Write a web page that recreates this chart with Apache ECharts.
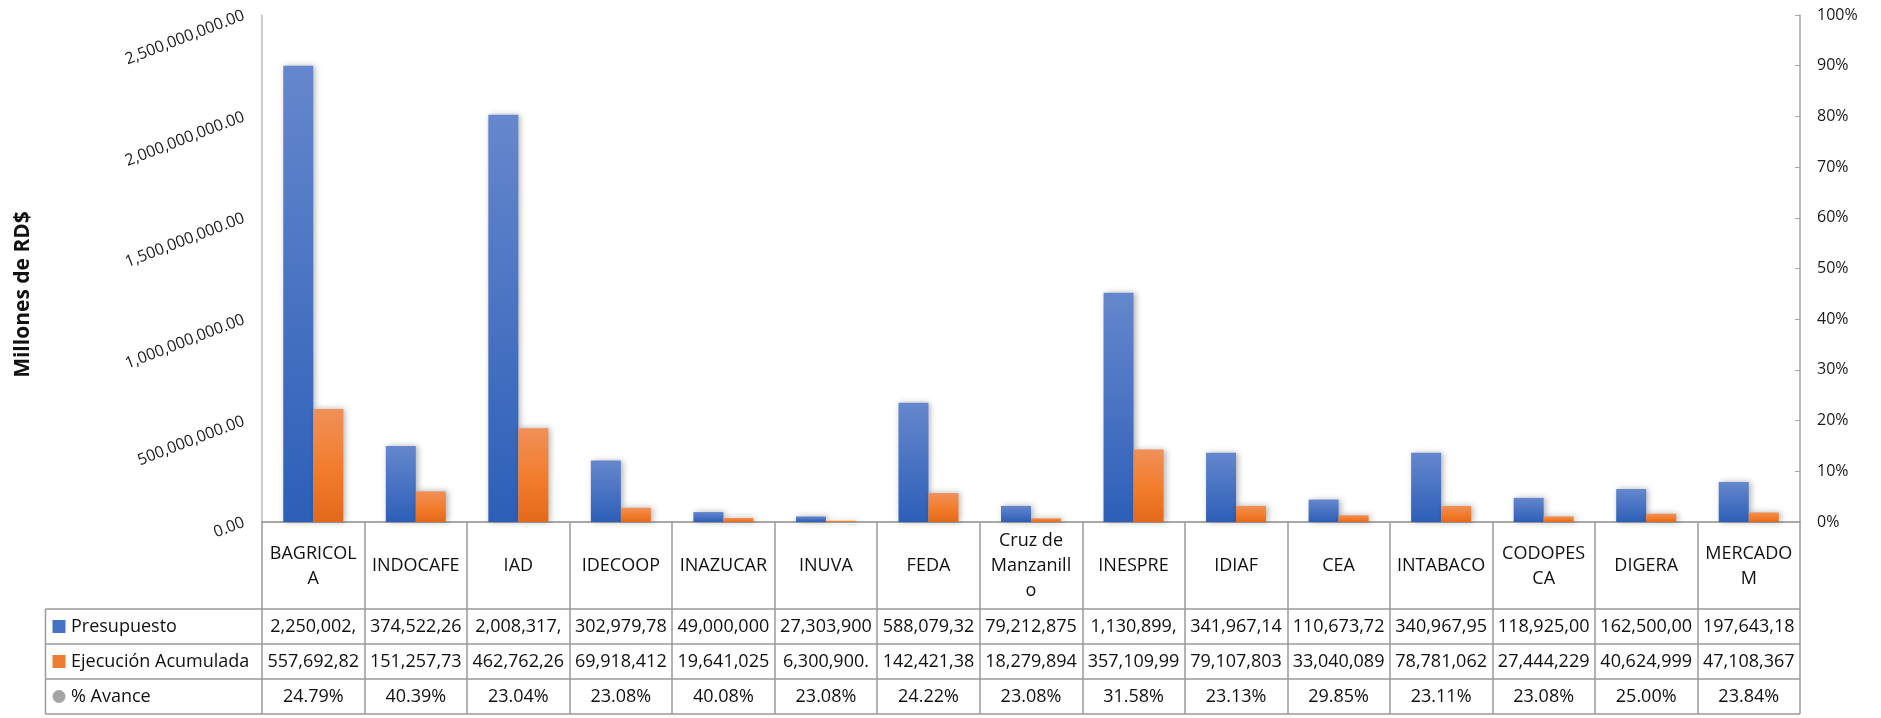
<!DOCTYPE html>
<html><head><meta charset="utf-8">
<script src="https://cdn.jsdelivr.net/npm/echarts@6/dist/echarts.min.js"></script>
<style>html,body{margin:0;padding:0;background:#fff}#c{width:1881px;height:718px}</style>
</head><body><div id="c"></div>
<script>
// ---- data ----
const categories = ['BAGRICOLA','INDOCAFE','IAD','IDECOOP','INAZUCAR','INUVA','FEDA','Cruz de Manzanillo','INESPRE','IDIAF','CEA','INTABACO','CODOPESCA','DIGERA','MERCADOM'];
const headerLabels = ['BAGRICOL\nA','INDOCAFE','IAD','IDECOOP','INAZUCAR','INUVA','FEDA','Cruz de\nManzanill\no','INESPRE','IDIAF','CEA','INTABACO','CODOPES\nCA','DIGERA','MERCADO\nM'];
const presupuesto = [2250002000, 374522260, 2008317000, 302979780, 49000000, 27303900, 588079320, 79212875, 1130899000, 341967140, 110673720, 340967950, 118925000, 162500000, 197643180];
const ejecucion = [557692820, 151257730, 462762260, 69918412, 19641025, 6300900, 142421380, 18279894, 357109990, 79107803, 33040089, 78781062, 27444229, 40624999, 47108367];
const avance = [24.79, 40.39, 23.04, 23.08, 40.08, 23.08, 24.22, 23.08, 31.58, 23.13, 29.85, 23.11, 23.08, 25.00, 23.84];
const seriesNames = ['Presupuesto', 'Ejecución Acumulada', '% Avance'];
const yAxisName = 'Millones de RD$';

// ---- helpers ----
const FONT = 'Open Sans';
const TXT = '#111';
const LINE = '#9a9a9a';
const CELL_FONT = '18px "Open Sans"';
const CELL_WIDTH = 93.5;
const money = v => v.toLocaleString('en-US', {minimumFractionDigits: 2, maximumFractionDigits: 2});
const pct = v => v.toFixed(2) + '%';
const measureCtx = document.createElement('canvas').getContext('2d');
measureCtx.font = CELL_FONT;
function clip(s) {
  // cell clipping like a spreadsheet: keep only whole characters that fit
  while (s.length > 0 && measureCtx.measureText(s).width > CELL_WIDTH) s = s.slice(0, -1);
  return s;
}

function rowAxis(values, fmt, margin) {
  return {
    type: 'category', data: categories, position: 'bottom', gridIndex: 0,
    axisLine: {show: false}, axisTick: {show: false}, splitLine: {show: false},
    axisLabel: {
      interval: 0, margin: margin, verticalAlign: 'middle', fontFamily: FONT, fontSize: 18, color: TXT,
      formatter: (v, i) => clip(fmt(values[i]))
    }
  };
}

const chart = echarts.init(document.getElementById('c'), null, {renderer: 'canvas'});

const rowY = [626.5, 661.5, 696.5];
const tableLeft = 45.5, tableRight = 1800;

const graphics = [];
[609, 644, 679, 714].forEach(y => {
  graphics.push({type: 'line', shape: {x1: tableLeft, y1: y, x2: tableRight, y2: y}, style: {stroke: LINE, lineWidth: 1.5}, silent: true});
});
graphics.push({type: 'line', shape: {x1: tableLeft, y1: 609, x2: tableLeft, y2: 714}, style: {stroke: LINE, lineWidth: 1.5}, silent: true});
graphics.push({type: 'rect', shape: {x: 52.5, y: rowY[0] - 6.5, width: 13, height: 13}, style: {fill: '#4472C4'}, silent: true});
graphics.push({type: 'rect', shape: {x: 52.5, y: rowY[1] - 6.5, width: 13, height: 13}, style: {fill: '#ED7D31'}, silent: true});
graphics.push({type: 'circle', shape: {cx: 59, cy: rowY[2], r: 6.5}, style: {fill: '#A5A5A5'}, silent: true});
seriesNames.forEach((n, i) => {
  graphics.push({type: 'text', x: 71, y: rowY[i], style: {text: n, fontFamily: FONT, fontSize: 18, fill: TXT, verticalAlign: 'middle', align: 'left'}, silent: true});
});

const option = {
  animation: false,
  backgroundColor: '#fff',
  textStyle: {fontFamily: FONT},
  grid: {left: 262, right: 81, top: 15, bottom: 196, containLabel: false},
  xAxis: [
    {
      type: 'category', data: categories, position: 'bottom', gridIndex: 0,
      axisLine: {show: true, lineStyle: {color: '#8c8c8c', width: 1.5}},
      axisTick: {show: true, interval: 0, length: 192, alignWithLabel: false, lineStyle: {color: LINE, width: 1.5}},
      splitLine: {show: false},
      axisLabel: {
        interval: 0, margin: 44, verticalAlign: 'middle', lineHeight: 25,
        fontFamily: FONT, fontSize: 18, color: TXT,
        formatter: (v, i) => headerLabels[i]
      }
    },
    rowAxis(presupuesto, money, 104.5),
    rowAxis(ejecucion, money, 139.5),
    rowAxis(avance, pct, 174.5)
  ],
  yAxis: [
    {
      type: 'value', min: 0, max: 2500000000, interval: 500000000,
      name: yAxisName, nameLocation: 'middle', nameRotate: 90, nameGap: 228,
      nameTextStyle: {fontFamily: FONT, fontSize: 21, fontWeight: 'bold', color: TXT, padding: [0, 52, 0, 0]},
      axisLine: {show: true, lineStyle: {color: '#bdbdbd', width: 1.5}},
      axisTick: {show: false}, splitLine: {show: false},
      axisLabel: {rotate: 21, margin: 18, fontFamily: FONT, fontSize: 16, color: '#1a1a1a', formatter: v => money(v)}
    },
    {
      type: 'value', position: 'right', min: 0, max: 1, interval: 0.1,
      axisLine: {show: true, lineStyle: {color: '#a6a6a6', width: 1.5}},
      axisTick: {show: true, inside: true, length: 5, lineStyle: {color: '#a6a6a6'}},
      splitLine: {show: false},
      axisLabel: {margin: 17, fontFamily: FONT, fontSize: 16, color: '#1a1a1a', formatter: v => Math.round(v * 100) + '%'}
    }
  ],
  series: [
    {
      name: seriesNames[0], type: 'bar', xAxisIndex: 0, yAxisIndex: 0, data: presupuesto,
      barWidth: 30, barGap: '0%',
      itemStyle: {
        color: new echarts.graphic.LinearGradient(0, 0, 0, 1, [{offset: 0, color: '#6587cd'}, {offset: 1, color: '#2d5fb8'}]),
        shadowBlur: 6, shadowColor: 'rgba(0,0,0,0.3)', shadowOffsetX: 2, shadowOffsetY: 0
      }
    },
    {
      name: seriesNames[1], type: 'bar', xAxisIndex: 0, yAxisIndex: 0, data: ejecucion,
      barWidth: 30, barGap: '0%',
      itemStyle: {
        color: new echarts.graphic.LinearGradient(0, 0, 0, 1, [{offset: 0, color: '#f09059'}, {offset: 0.55, color: '#f27c2a'}, {offset: 1, color: '#e3691a'}]),
        shadowBlur: 6, shadowColor: 'rgba(0,0,0,0.3)', shadowOffsetX: 2, shadowOffsetY: 0
      }
    },
    {
      name: seriesNames[2], type: 'line', xAxisIndex: 0, yAxisIndex: 1, data: avance.map(v => v / 100),
      symbol: 'none', lineStyle: {opacity: 0, width: 0}, silent: true
    }
  ],
  graphic: graphics
};
chart.setOption(option);
</script>
</body></html>
